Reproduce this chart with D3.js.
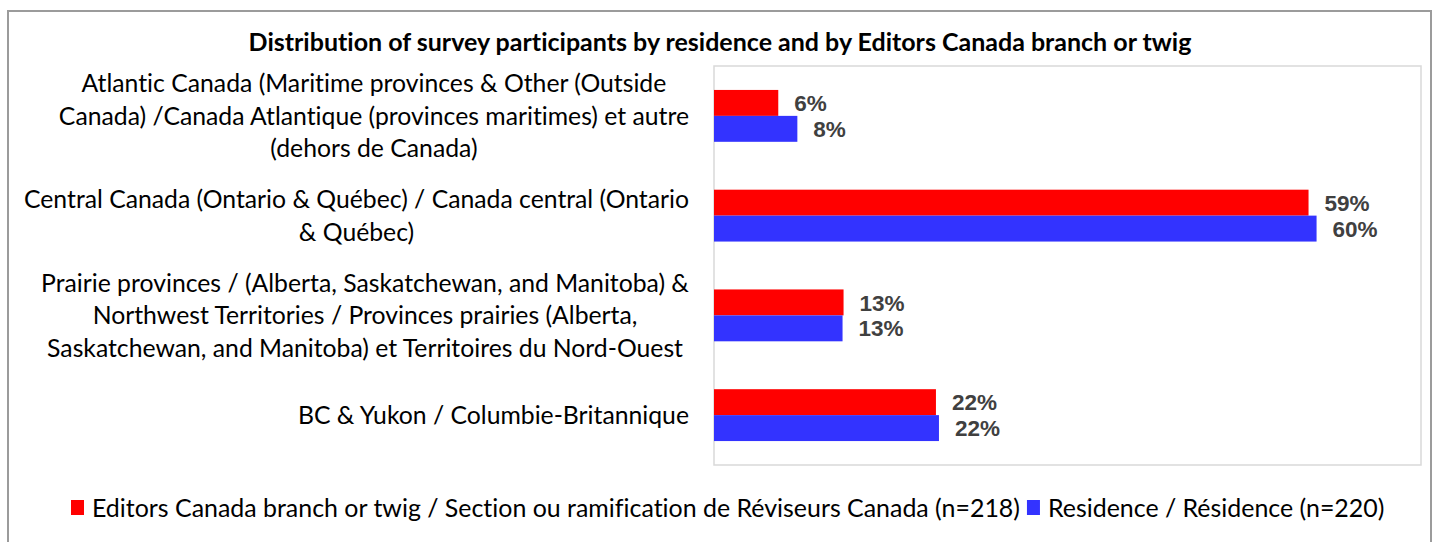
<!DOCTYPE html>
<html><head><meta charset="utf-8">
<script src="https://cdn.jsdelivr.net/npm/d3@7"></script>
<style>
body{margin:0;background:#fff;overflow:hidden}
svg{display:block}
text{font-family:Lato,"Open Sans",sans-serif;font-variant-ligatures:none;font-feature-settings:"liga" 0,"clig" 0}
text.val{font-family:"Liberation Sans",Arial,sans-serif}
</style>
</head><body>
<svg id="c" width="1440" height="542"></svg>
<script>
// ---------- data ----------
const title = "Distribution of survey participants by residence and by Editors Canada branch or twig";
const categories = [
  "Atlantic Canada (Maritime provinces & Other (Outside Canada) /Canada Atlantique (provinces maritimes) et autre (dehors de Canada)",
  "Central Canada (Ontario & Québec) / Canada central (Ontario & Québec)",
  "Prairie provinces / (Alberta, Saskatchewan, and Manitoba) & Northwest Territories / Provinces prairies (Alberta, Saskatchewan, and Manitoba) et Territoires du Nord-Ouest",
  "BC & Yukon / Columbie-Britannique"
];
const categoryLines = [
  ["Atlantic Canada (Maritime provinces & Other (Outside", "Canada) /Canada Atlantique (provinces maritimes) et autre", "(dehors de Canada)"],
  ["Central Canada (Ontario & Québec) / Canada central (Ontario", "& Québec)"],
  ["Prairie provinces / (Alberta, Saskatchewan, and Manitoba) &", "Northwest Territories / Provinces prairies (Alberta,", "Saskatchewan, and Manitoba) et Territoires du Nord-Ouest"],
  ["BC & Yukon / Columbie-Britannique"]
];
const seriesNames = [
  "Editors Canada branch or twig / Section ou ramification de Réviseurs Canada (n=218)",
  "Residence / Résidence (n=220)"
];
const branchValues = [0.064, 0.592, 0.129, 0.221];
const residenceValues = [0.083, 0.600, 0.128, 0.224];
const seriesColors = ["#FF0000", "#3333FF"];

// ---------- layout ----------
const svg = d3.select("#c");
const plot = {left: 714, right: 1421, top: 66, bottom: 465};

// outer frame
svg.append("rect").attr("x", 8).attr("y", 11).attr("width", 1423).attr("height", 560)
  .attr("fill", "#fff").attr("stroke", "#9b9b9b").attr("stroke-width", 2);

// plot frame
svg.append("rect").attr("x", plot.left).attr("y", plot.top)
  .attr("width", plot.right - plot.left).attr("height", plot.bottom - plot.top)
  .attr("fill", "none").attr("stroke", "#d9d9d9").attr("stroke-width", 1.5);

const x = d3.scaleLinear().domain([0, 0.7]).range([plot.left, plot.left + 703]);
const y = d3.scaleBand().domain(categories).range([plot.top, plot.bottom]).paddingInner(0.48).paddingOuter(0.24);
const ySub = d3.scaleBand().domain([0, 1]).range([0, y.bandwidth()]);

function fit(sel, target) {
  const n = sel.node();
  const fs = parseFloat(sel.attr("font-size"));
  const w = n.getComputedTextLength();
  sel.attr("font-size", (fs * target / w).toFixed(2));
  return fs * target / w;
}

// title
const t = svg.append("text").attr("x", 720).attr("y", 42).attr("dy", "0.35em")
  .attr("text-anchor", "middle").attr("font-weight", "bold").attr("font-size", 20)
  .attr("fill", "#000").text(title);
fit(t, 943);

// determine label font size from the widest line
const probe = svg.append("text").attr("font-size", 20).text(categoryLines[1][0]);
const labelSize = fit(probe, 665);
probe.remove();

// bars
const series = [branchValues, residenceValues];
const fmt = d3.format(".0%");
series.forEach((vals, si) => {
  const g = svg.append("g");
  g.selectAll("rect").data(vals).join("rect")
    .attr("x", x(0))
    .attr("y", (d, i) => y(categories[i]) + ySub(si))
    .attr("width", d => x(d) - x(0))
    .attr("height", ySub.bandwidth())
    .attr("fill", seriesColors[si]);
  g.selectAll("text").data(vals).join("text")
    .attr("class", "val")
    .attr("x", d => x(d) + 16)
    .attr("y", (d, i) => y(categories[i]) + ySub(si) + ySub.bandwidth() / 2)
    .attr("dy", "0.36em")
    .attr("font-weight", "bold")
    .attr("font-size", 22.5)
    .attr("fill", "#404040")
    .text(d => fmt(d));
});

// category labels (wrapped, lines centered in a right-aligned block)
const lineH = 32.5;
categories.forEach((c, i) => {
  const lines = categoryLines[i];
  const cy = y(c) + y.bandwidth() / 2;
  const g = svg.append("g");
  const texts = lines.map((ln, j) => g.append("text")
    .attr("y", cy + (j - (lines.length - 1) / 2) * lineH)
    .attr("dy", "0.35em").attr("font-size", labelSize).attr("fill", "#000")
    .attr("text-anchor", "middle").text(ln));
  const maxW = d3.max(texts, s => s.node().getComputedTextLength());
  texts.forEach(s => s.attr("x", 689 - maxW / 2));
});

// legend: one common font size so both entries together span the reference width
const lp = svg.append("text").attr("font-size", 20).text(seriesNames.join(""));
const legendSize = fit(lp, 1265);
lp.remove();
const legend = svg.append("g");
let lx = 71;
seriesNames.forEach((name, i) => {
  legend.append("rect").attr("x", lx).attr("y", 500).attr("width", 13).attr("height", 15).attr("fill", seriesColors[i]);
  const tx = legend.append("text").attr("x", lx + 21).attr("y", 508).attr("dy", "0.35em")
    .attr("font-size", legendSize).attr("fill", "#000").text(name);
  lx += 21 + tx.node().getComputedTextLength() + 7;
});
</script>
</body></html>
